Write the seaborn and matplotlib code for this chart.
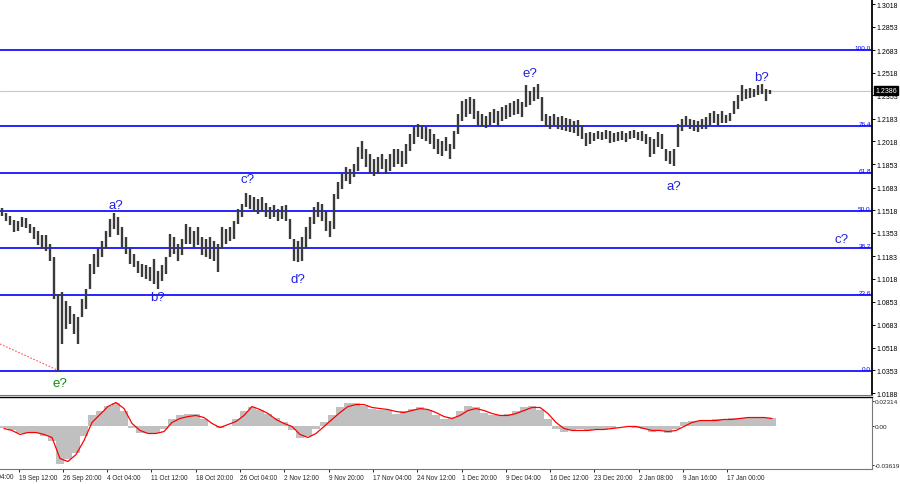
import numpy as np
import pandas as pd
import seaborn as sns
import matplotlib
matplotlib.use("Agg")
import matplotlib.pyplot as plt

# GBP/USD, Sep 2022 - Jan 2023, one bar here ~ 3 H4 bars
bar_high = [
    1.1534, 1.1498, 1.1476, 1.1447, 1.1439, 1.1468, 1.1461, 1.1418, 1.1396, 1.1367, 1.1338,
    1.1338, 1.1272, 1.1178, 1.0908, 1.0923, 1.0857, 1.0821, 1.0763, 1.0741, 1.0872, 1.0945,
    1.1127, 1.1199, 1.1236, 1.1294, 1.1367, 1.1454, 1.1498, 1.1468, 1.1396, 1.1323, 1.1250,
    1.1199, 1.1148, 1.1127, 1.1119, 1.1105, 1.1163, 1.1076, 1.1119, 1.1178, 1.1345, 1.1323,
    1.1272, 1.1308, 1.1418, 1.1396, 1.1367, 1.1396, 1.1323, 1.1308, 1.1323, 1.1294, 1.1272,
    1.1396, 1.1381, 1.1396, 1.1439, 1.1527, 1.1563, 1.1643, 1.1628, 1.1614, 1.1599, 1.1614,
    1.1570, 1.1541, 1.1556, 1.1527, 1.1549, 1.1556, 1.1454, 1.1308, 1.1294, 1.1323, 1.1396,
    1.1468, 1.1541, 1.1578, 1.1563, 1.1512, 1.1439, 1.1636, 1.1723, 1.1781, 1.1832, 1.1818,
    1.1854, 1.1978, 1.2021, 1.1963, 1.1927, 1.1890, 1.1905, 1.1927, 1.1890, 1.1927, 1.1963,
    1.1963, 1.1949, 1.2000, 1.2072, 1.2123, 1.2145, 1.2138, 1.2123, 1.2109, 1.2072, 1.2036,
    1.2021, 1.2050, 1.2000, 1.2094, 1.2218, 1.2312, 1.2327, 1.2342, 1.2327, 1.2240, 1.2218,
    1.2203, 1.2232, 1.2254, 1.2240, 1.2269, 1.2283, 1.2298, 1.2312, 1.2327, 1.2305, 1.2429,
    1.2385, 1.2414, 1.2436, 1.2342, 1.2218, 1.2203, 1.2218, 1.2196, 1.2203, 1.2189, 1.2181,
    1.2167, 1.2174, 1.2138, 1.2079, 1.2087, 1.2079, 1.2094, 1.2087, 1.2101, 1.2094, 1.2079,
    1.2087, 1.2094, 1.2079, 1.2094, 1.2101, 1.2087, 1.2094, 1.2072, 1.2050, 1.2036, 1.2087,
    1.2072, 1.1963, 1.1949, 1.1963, 1.2145, 1.2181, 1.2203, 1.2181, 1.2174, 1.2167, 1.2181,
    1.2196, 1.2225, 1.2240, 1.2218, 1.2240, 1.2210, 1.2225, 1.2312, 1.2356, 1.2429, 1.2400,
    1.2407, 1.2400, 1.2429, 1.2436, 1.2400, 1.2392,
]
bar_low = [
    1.1476, 1.1439, 1.1410, 1.1359, 1.1367, 1.1396, 1.1388, 1.1352, 1.1308, 1.1265, 1.1236,
    1.1221, 1.1148, 1.0872, 1.0350, 1.0545, 1.0654, 1.0690, 1.0617, 1.0545, 1.0741, 1.0799,
    1.0945, 1.1054, 1.1105, 1.1178, 1.1236, 1.1323, 1.1381, 1.1338, 1.1250, 1.1199, 1.1127,
    1.1105, 1.1061, 1.1032, 1.1017, 1.1003, 1.0981, 1.0945, 1.1003, 1.1054, 1.1178, 1.1199,
    1.1148, 1.1192, 1.1272, 1.1272, 1.1250, 1.1265, 1.1192, 1.1178, 1.1163, 1.1148, 1.1068,
    1.1236, 1.1272, 1.1294, 1.1308, 1.1418, 1.1468, 1.1541, 1.1527, 1.1512, 1.1490, 1.1512,
    1.1468, 1.1454, 1.1468, 1.1439, 1.1454, 1.1439, 1.1308, 1.1148, 1.1141, 1.1148, 1.1236,
    1.1308, 1.1418, 1.1468, 1.1439, 1.1367, 1.1323, 1.1381, 1.1599, 1.1672, 1.1730, 1.1709,
    1.1760, 1.1803, 1.1890, 1.1832, 1.1781, 1.1767, 1.1781, 1.1818, 1.1781, 1.1803, 1.1832,
    1.1854, 1.1832, 1.1854, 1.1949, 1.2000, 1.2050, 1.2036, 1.2021, 1.2000, 1.1963, 1.1927,
    1.1912, 1.1949, 1.1890, 1.1963, 1.2072, 1.2167, 1.2196, 1.2218, 1.2181, 1.2138, 1.2123,
    1.2116, 1.2138, 1.2152, 1.2138, 1.2167, 1.2181, 1.2196, 1.2210, 1.2218, 1.2196, 1.2269,
    1.2283, 1.2312, 1.2327, 1.2167, 1.2123, 1.2109, 1.2130, 1.2109, 1.2101, 1.2094, 1.2087,
    1.2079, 1.2058, 1.2036, 1.1985, 1.2000, 1.2021, 1.2036, 1.2029, 1.2036, 1.2007, 1.2014,
    1.2021, 1.2029, 1.2014, 1.2036, 1.2043, 1.2029, 1.2021, 1.2000, 1.1905, 1.1927, 1.1978,
    1.1963, 1.1876, 1.1854, 1.1841, 1.1978, 1.2094, 1.2130, 1.2109, 1.2094, 1.2087, 1.2109,
    1.2109, 1.2138, 1.2152, 1.2130, 1.2152, 1.2152, 1.2167, 1.2218, 1.2254, 1.2312, 1.2327,
    1.2334, 1.2342, 1.2356, 1.2363, 1.2312, 1.2363,
]
last_price = 1.2386

fib_low = 1.0350
fib_high = 1.2680
fib_levels = [0.0, 23.6, 38.2, 50.0, 61.8, 76.4, 100.0]

price_ticks = [1.3018, 1.2853, 1.2683, 1.2518, 1.2353, 1.2183, 1.2018, 1.1853, 1.1683,
               1.1518, 1.1353, 1.1183, 1.1018, 1.0853, 1.0683, 1.0518, 1.0353, 1.0188]

# MACD, one value per two bars
macd_hist = [
    -0.0019, -0.0046, -0.0074, -0.0065, -0.0074, -0.0093, -0.0139, -0.0352, -0.0306, -0.0259,
    -0.0093, 0.0093, 0.0130, 0.0185, 0.0213, 0.0130, -0.0019, -0.0065, -0.0074, -0.0065,
    -0.0037, 0.0056, 0.0093, 0.0111, 0.0102, 0.0056, 0.0000, -0.0019, -0.0009, 0.0056,
    0.0130, 0.0167, 0.0139, 0.0111, 0.0074, 0.0028, -0.0046, -0.0120, -0.0093, -0.0037,
    0.0037, 0.0093, 0.0167, 0.0204, 0.0204, 0.0185, 0.0157, 0.0148, 0.0139, 0.0111,
    0.0130, 0.0157, 0.0167, 0.0139, 0.0093, 0.0056, 0.0065, 0.0130, 0.0176, 0.0167,
    0.0120, 0.0093, 0.0093, 0.0102, 0.0130, 0.0167, 0.0185, 0.0148, 0.0056, -0.0028,
    -0.0056, -0.0046, -0.0037, -0.0046, -0.0037, -0.0028, -0.0019, -0.0009, -0.0009, -0.0019,
    -0.0037, -0.0056, -0.0046, -0.0074, -0.0028, 0.0028, 0.0046, 0.0046, 0.0046, 0.0056,
    0.0056, 0.0065, 0.0074, 0.0074, 0.0074, 0.0065, 0.0065,
]
macd_signal = [
    -0.0028, -0.0046, -0.0083, -0.0065, -0.0065, -0.0083, -0.0111, -0.0306, -0.0333, -0.0269,
    -0.0139, 0.0028, 0.0102, 0.0176, 0.0213, 0.0157, 0.0019, -0.0046, -0.0074, -0.0074,
    -0.0056, 0.0028, 0.0065, 0.0083, 0.0093, 0.0074, 0.0019, -0.0019, 0.0009, 0.0037,
    0.0093, 0.0176, 0.0148, 0.0111, 0.0056, 0.0019, -0.0009, -0.0083, -0.0111, -0.0074,
    -0.0009, 0.0056, 0.0120, 0.0176, 0.0194, 0.0194, 0.0167, 0.0157, 0.0148, 0.0130,
    0.0120, 0.0139, 0.0157, 0.0148, 0.0120, 0.0083, 0.0065, 0.0093, 0.0139, 0.0157,
    0.0139, 0.0111, 0.0093, 0.0093, 0.0111, 0.0139, 0.0167, 0.0167, 0.0111, 0.0028,
    -0.0028, -0.0046, -0.0046, -0.0046, -0.0037, -0.0037, -0.0028, -0.0019, -0.0009, -0.0009,
    -0.0028, -0.0046, -0.0046, -0.0056, -0.0046, -0.0009, 0.0028, 0.0046, 0.0046, 0.0046,
    0.0056, 0.0056, 0.0065, 0.0074, 0.0074, 0.0074, 0.0065,
]
macd_ticks = [0.02314, 0.0, -0.03619]
macd_tick_labels = ["0.02314", "0.00", "-0.03619"]

date_labels = ["12 Sep 04:00", "19 Sep 12:00", "26 Sep 20:00", "4 Oct 04:00", "11 Oct 12:00",
               "18 Oct 20:00", "26 Oct 04:00", "2 Nov 12:00", "9 Nov 20:00", "17 Nov 04:00",
               "24 Nov 12:00", "1 Dec 20:00", "9 Dec 04:00", "16 Dec 12:00", "23 Dec 20:00",
               "2 Jan 08:00", "9 Jan 16:00", "17 Jan 00:00"]

wave_text = ["e?", "a?", "b?", "c?", "d?", "e?", "a?", "b?", "c?"]
wave_bar = [14.5, 28.5, 39.0, 61.5, 74.0, 132.0, 168.0, 190.0, 210.0]
wave_price = [1.0262, 1.1556, 1.0887, 1.1745, 1.1017, 1.2516, 1.1694, 1.2487, 1.1308]
wave_color = ["#118811"] + ["#2020e0"] * 8

sns.set_style("white")
plt.rcParams["font.family"] = ["Liberation Sans", "DejaVu Sans"]

fig = plt.figure(figsize=(9, 4.85), dpi=100)
ax = fig.add_axes([0.0, 0.1845, 0.9689, 0.8155])
ax2 = fig.add_axes([0.0, 0.0299, 0.9689, 0.1505])

n = len(bar_high)
xs = np.arange(n)
bars = pd.DataFrame({"x": xs, "high": bar_high, "low": bar_low})

# current price line
ax.axhline(last_price, color="#c8c8c8", lw=0.8, zorder=1)

# fibo levels
for lv in fib_levels:
    p = fib_low + (fib_high - fib_low) * lv / 100.0
    ax.axhline(p, color="#0000ff", lw=1.2, zorder=2)
    ax.text(217.2, p, f"{lv:.1f}", color="#0000ff", fontsize=4.6,
            ha="right", va="bottom", zorder=4)

# price bars
ax.vlines(bars["x"], bars["low"], bars["high"], color="#3a3a3a", lw=1.7, zorder=3)

# old trend line into the e? low
ax.plot([-0.5, 13.7], [1.0545, 1.0357], color="#ff5a5a", lw=0.8,
        ls=(0, (1.5, 1.5)), zorder=3)

for t, bx, by, c in zip(wave_text, wave_bar, wave_price, wave_color):
    ax.text(bx, by, t, color=c, fontsize=9.5, ha="center", va="center", zorder=5)

ax.set_xlim(-0.5, 217.5)
ax.set_ylim(1.01771, 1.30544)
ax.set_xticks([])
ax.yaxis.tick_right()
ax.set_yticks(price_ticks)
ax.set_yticklabels([f"{p:.4f}" for p in price_ticks])
ax.tick_params(axis="y", direction="out", length=2.0, width=0.7, pad=1.2,
               labelsize=5.0, colors="#000000", right=True, left=False)
for s in ["top", "left"]:
    ax.spines[s].set_visible(False)
ax.spines["right"].set_color("#000000")
ax.spines["right"].set_linewidth(1.3)
ax.spines["bottom"].set_color("#777777")
ax.spines["bottom"].set_linewidth(0.8)

ax.annotate(f"{last_price:.4f}", xy=(1.0, last_price), xycoords=("axes fraction", "data"),
            xytext=(2.5, 0), textcoords="offset points", color="white", fontsize=5.0,
            ha="left", va="center",
            bbox=dict(boxstyle="square,pad=0.15", fc="black", ec="black"))

# MACD panel
mx = np.arange(len(macd_hist)) * 2 + 0.5
ax2.bar(mx, macd_hist, width=2.0, color="#c0c0c0", linewidth=0, zorder=2)
sig = pd.DataFrame({"x": mx, "signal": macd_signal})
sns.lineplot(data=sig, x="x", y="signal", ax=ax2, color="#ff0000", lw=0.9, zorder=3)
ax2.set_xlim(-0.5, 217.5)
ax2.set_ylim(-0.040744, 0.026854)
ax2.set_xlabel("")
ax2.set_ylabel("")
ax2.yaxis.tick_right()
ax2.set_yticks(macd_ticks)
ax2.set_yticklabels(macd_tick_labels)
ax2.tick_params(axis="y", direction="out", length=1.2, width=0.7, pad=0.6,
                labelsize=4.6, right=True, left=False)

first_tick = -6.95
tick_step = 11.075
tick_pos = [first_tick + tick_step * k for k in range(len(date_labels))]
ax2.set_xticks(tick_pos[1:])
ax2.set_xticklabels(date_labels[1:], ha="left")
ax2.tick_params(axis="x", direction="out", length=2.0, width=0.7, pad=1.5,
                labelsize=4.7, bottom=True)
ax2.text(tick_pos[0] + 0.3, -0.0444, date_labels[0], fontsize=4.7, ha="left", va="top",
         clip_on=False)
ax2.spines["top"].set_color("#000000")
ax2.spines["top"].set_linewidth(1.0)
ax2.spines["left"].set_visible(False)
ax2.spines["right"].set_color("#777777")
ax2.spines["bottom"].set_color("#777777")
ax2.spines["bottom"].set_linewidth(0.8)

fig.savefig("out.png", dpi=100, facecolor="white")
